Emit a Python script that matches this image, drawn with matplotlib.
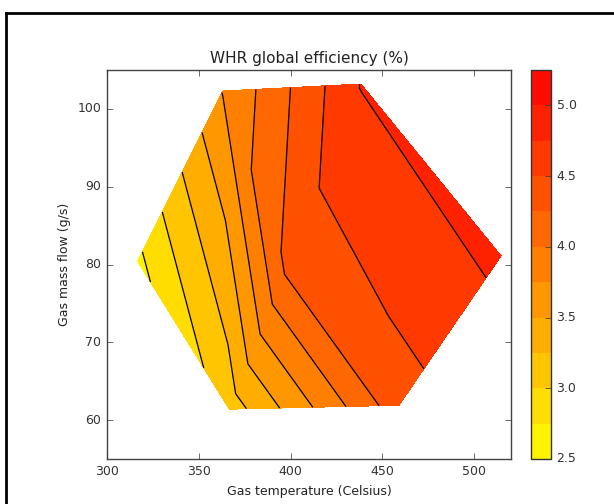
import matplotlib
matplotlib.use("Agg")
import matplotlib.pyplot as plt
import matplotlib.tri as mtri
import numpy as np
from matplotlib.lines import Line2D

# Measured operating points (hexagonal design + centre)
gas_temperature = [316.7, 363.0, 438.3, 514.6, 459.0, 366.6, 398.0]   # Celsius
gas_mass_flow   = [80.4, 102.3, 103.2, 81.1, 61.9, 61.4, 79.5]        # g/s
efficiency      = [2.69, 3.76, 4.76, 4.81, 4.40, 3.12, 4.30]          # %

levels = np.arange(2.5, 5.26, 0.25)
cbar_ticks = [2.5, 3.0, 3.5, 4.0, 4.5, 5.0]

plt.style.use('classic')
plt.rcParams['font.family'] = ['DejaVu Sans']
plt.rcParams['font.size'] = 9
plt.rcParams['text.color'] = '#222222'
plt.rcParams['xtick.color'] = '#333333'
plt.rcParams['ytick.color'] = '#333333'

fig = plt.figure(figsize=(6.14, 5.04), dpi=100, facecolor='white')
ax = fig.add_axes([107/614, 1-459/504, 404/614, 389/504])
cax = fig.add_axes([531/614, 1-459/504, 20/614, 389/504])

tri = mtri.Triangulation(gas_temperature, gas_mass_flow)
cf = ax.tricontourf(tri, efficiency, levels=levels, cmap='autumn_r')
ax.tricontour(tri, efficiency, levels=levels, colors='k', linewidths=0.9)

ax.set_xlim(300, 520)
ax.set_ylim(55, 105)
ax.set_xticks([300, 350, 400, 450, 500])
ax.set_yticks([60, 70, 80, 90, 100])
ax.tick_params(labelsize=9)
ax.set_title('WHR global efficiency (%)', fontsize=11, color='#222222')
ax.set_xlabel('Gas temperature (Celsius)', fontsize=9, color='#222222')
ax.set_ylabel('Gas mass flow (g/s)', fontsize=9, color='#222222')
for s in ax.spines.values():
    s.set_color('#444444')

cb = fig.colorbar(cf, cax=cax, ticks=cbar_ticks, format='%.1f')
cb.ax.tick_params(labelsize=9)
cb.outline.set_edgecolor('#333333')

# screenshot frame
fig.add_artist(Line2D([6/614, 6/614], [0, 1-13/504], transform=fig.transFigure, color='k', lw=2))
fig.add_artist(Line2D([6/614, 1], [1-13/504, 1-13/504], transform=fig.transFigure, color='k', lw=2))

fig.savefig('out.png', dpi=100, facecolor='white')
